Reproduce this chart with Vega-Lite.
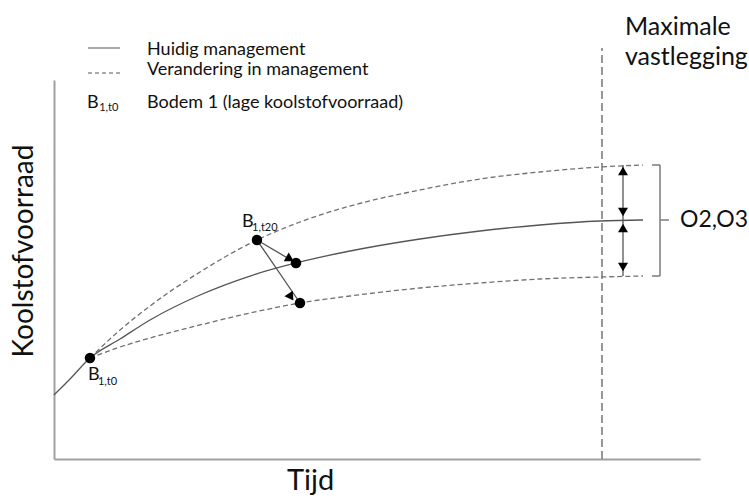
{
  "$schema": "https://vega.github.io/schema/vega-lite/v6.json",
  "width": 646,
  "height": 379,
  "autosize": {"type": "none"},
  "padding": {"left": 54, "top": 80, "right": 49, "bottom": 39},
  "background": "white",
  "config": {"view": {"stroke": null}, "font": "Lato"},
  "datasets": {
    "huidig": [
      {"t": 0, "c": 16.89}, {"t": 2.48, "c": 21.11}, {"t": 5.57, "c": 26.65}, {"t": 10.22, "c": 31.66},
      {"t": 14.86, "c": 36.68}, {"t": 22.6, "c": 43.27}, {"t": 30.34, "c": 48.28}, {"t": 37.46, "c": 51.72},
      {"t": 45.82, "c": 54.88}, {"t": 56.66, "c": 58.05}, {"t": 65.94, "c": 60.16}, {"t": 75.23, "c": 61.74},
      {"t": 84.52, "c": 62.8}, {"t": 91.18, "c": 63.06}
    ],
    "verandering": [
      {"reeks": "hoog", "t": 5.57, "c": 26.65}, {"reeks": "hoog", "t": 10.22, "c": 34.04}, {"reeks": "hoog", "t": 14.86, "c": 40.37},
      {"reeks": "hoog", "t": 22.6, "c": 49.34}, {"reeks": "hoog", "t": 31.42, "c": 57.78}, {"reeks": "hoog", "t": 38.08, "c": 62.53},
      {"reeks": "hoog", "t": 45.82, "c": 66.75}, {"reeks": "hoog", "t": 56.66, "c": 70.98}, {"reeks": "hoog", "t": 65.94, "c": 73.88},
      {"reeks": "hoog", "t": 75.23, "c": 75.73}, {"reeks": "hoog", "t": 84.52, "c": 77.04}, {"reeks": "hoog", "t": 91.18, "c": 77.57},
      {"reeks": "laag", "t": 5.57, "c": 26.65}, {"reeks": "laag", "t": 10.22, "c": 29.55}, {"reeks": "laag", "t": 14.86, "c": 31.93},
      {"reeks": "laag", "t": 22.6, "c": 35.36}, {"reeks": "laag", "t": 30.34, "c": 38.52}, {"reeks": "laag", "t": 38.08, "c": 41.16},
      {"reeks": "laag", "t": 45.82, "c": 43.01}, {"reeks": "laag", "t": 56.66, "c": 45.12}, {"reeks": "laag", "t": 65.94, "c": 46.44},
      {"reeks": "laag", "t": 75.23, "c": 47.49}, {"reeks": "laag", "t": 84.52, "c": 48.02}, {"reeks": "laag", "t": 91.18, "c": 48.28}
    ],
    "maxlijn": [{"t": 84.83, "c": 0, "c2": 108.44}],
    "pijlen": [
      {"t": 31.42, "c": 57.78, "t2": 37.46, "c2": 51.72},
      {"t": 31.42, "c": 57.78, "t2": 38.08, "c2": 41.16}
    ],
    "pijlkop1": [{"t": 36.53, "c": 52.77}],
    "pijlkop2": [{"t": 36.69, "c": 42.74}],
    "verschil": [{"t": 88.08, "c": 48.28, "t2": 88.08, "c2": 77.57}],
    "kop_op": [{"t": 88.08, "c": 75.99}, {"t": 88.08, "c": 60.95}],
    "kop_neer": [{"t": 88.08, "c": 65.17}, {"t": 88.08, "c": 50.66}],
    "accolade": [
      {"t": 93.81, "c": 48.28, "t2": 93.81, "c2": 77.57},
      {"t": 92.57, "c": 77.57, "t2": 93.81, "c2": 77.57},
      {"t": 92.57, "c": 48.28, "t2": 93.81, "c2": 48.28},
      {"t": 93.81, "c": 63.06, "t2": 95.2, "c2": 63.06}
    ],
    "punten": [
      {"punt": "B1,t0", "t": 5.57, "c": 26.65},
      {"punt": "B1,t20", "t": 31.42, "c": 57.78},
      {"punt": "huidig t20", "t": 37.46, "c": 51.72},
      {"punt": "laag t20", "t": 38.08, "c": 41.16}
    ],
    "legenda_vol": [{"t": 5.26, "c": 108.44, "t2": 10.22, "c2": 108.44}],
    "legenda_stip": [{"t": 5.26, "c": 101.85, "t2": 10.22, "c2": 101.85}],
    "legenda_tekst": [
      {"t": 14.4, "c": 106.6, "label": "Huidig management"},
      {"t": 14.4, "c": 101.32, "label": "Verandering in management"},
      {"t": 14.4, "c": 92.61, "label": "Bodem 1 (lage koolstofvoorraad)"}
    ],
    "b_groot": [
      {"t": 5.11, "c": 92.61, "label": "B"},
      {"t": 5.26, "c": 20.84, "label": "B"},
      {"t": 29.1, "c": 61.21, "label": "B"}
    ],
    "b_sub": [
      {"t": 7.0, "c": 91.82, "label": "1,t0"},
      {"t": 6.81, "c": 19.53, "label": "1,t0"},
      {"t": 30.65, "c": 60.16, "label": "1,t20"}
    ],
    "max_tekst": [
      {"t": 88.39, "c": 111.87, "label": "Maximale"},
      {"t": 88.39, "c": 103.96, "label": "vastlegging"}
    ],
    "o_tekst": [{"t": 96.9, "c": 63.06, "label": "O2,O3"}],
    "x_titel": [{"t": 36.07, "c": -8.3, "label": "Tijd"}],
    "y_titel": [{"t": -3.25, "c": 54.88, "label": "Koolstofvoorraad"}]
  },
  "encoding": {
    "x": {"field": "t", "type": "quantitative", "scale": {"domain": [0, 100], "nice": false, "zero": false},
      "axis": {"title": null, "labels": false, "ticks": false, "grid": false, "domainColor": "#a0a0a0", "domainWidth": 2}},
    "y": {"field": "c", "type": "quantitative", "scale": {"domain": [0, 100], "nice": false, "zero": false},
      "axis": {"title": null, "labels": false, "ticks": false, "grid": false, "domainColor": "#a0a0a0", "domainWidth": 2}}
  },
  "layer": [
    {"data": {"name": "maxlijn"}, "mark": {"type": "rule", "color": "#8c8c8c", "strokeWidth": 1.8, "strokeDash": [8, 4]},
      "encoding": {"y2": {"field": "c2"}}},
    {"data": {"name": "huidig"}, "mark": {"type": "line", "color": "#555555", "strokeWidth": 1.3, "interpolate": "monotone"},
      "encoding": {}},
    {"data": {"name": "verandering"}, "mark": {"type": "line", "color": "#707070", "strokeWidth": 1.3, "strokeDash": [5, 3], "interpolate": "monotone"},
      "encoding": {"detail": {"field": "reeks"}}},
    {"data": {"name": "pijlen"}, "mark": {"type": "rule", "color": "#555555", "strokeWidth": 1.3},
      "encoding": {"x2": {"field": "t2"}, "y2": {"field": "c2"}}},
    {"data": {"name": "pijlkop1"}, "mark": {"type": "point", "shape": "triangle-right", "angle": 30, "filled": true, "color": "black", "opacity": 1, "size": 100}},
    {"data": {"name": "pijlkop2"}, "mark": {"type": "point", "shape": "triangle-right", "angle": 56, "filled": true, "color": "black", "opacity": 1, "size": 100}},
    {"data": {"name": "verschil"}, "mark": {"type": "rule", "color": "#555555", "strokeWidth": 1.3},
      "encoding": {"x2": {"field": "t2"}, "y2": {"field": "c2"}}},
    {"data": {"name": "kop_op"}, "mark": {"type": "point", "shape": "triangle-up", "filled": true, "color": "black", "opacity": 1, "size": 100}},
    {"data": {"name": "kop_neer"}, "mark": {"type": "point", "shape": "triangle-down", "filled": true, "color": "black", "opacity": 1, "size": 100}},
    {"data": {"name": "accolade"}, "mark": {"type": "rule", "color": "#7a7a7a", "strokeWidth": 1.5},
      "encoding": {"x2": {"field": "t2"}, "y2": {"field": "c2"}}},
    {"data": {"name": "punten"}, "mark": {"type": "point", "shape": "circle", "filled": true, "color": "black", "opacity": 1, "size": 110}},
    {"data": {"name": "legenda_vol"}, "mark": {"type": "rule", "color": "#555555", "strokeWidth": 1.2},
      "encoding": {"x2": {"field": "t2"}, "y2": {"field": "c2"}}},
    {"data": {"name": "legenda_stip"}, "mark": {"type": "rule", "color": "#555555", "strokeWidth": 1.2, "strokeDash": [4, 3]},
      "encoding": {"x2": {"field": "t2"}, "y2": {"field": "c2"}}},
    {"data": {"name": "legenda_tekst"}, "mark": {"type": "text", "align": "left", "baseline": "alphabetic", "fontSize": 18, "color": "#111111"},
      "encoding": {"text": {"field": "label"}}},
    {"data": {"name": "b_groot"}, "mark": {"type": "text", "align": "left", "baseline": "alphabetic", "fontSize": 18, "color": "#111111"},
      "encoding": {"text": {"field": "label"}}},
    {"data": {"name": "b_sub"}, "mark": {"type": "text", "align": "left", "baseline": "alphabetic", "fontSize": 11, "color": "#111111"},
      "encoding": {"text": {"field": "label"}}},
    {"data": {"name": "max_tekst"}, "mark": {"type": "text", "align": "left", "baseline": "alphabetic", "fontSize": 25, "color": "#111111"},
      "encoding": {"text": {"field": "label"}}},
    {"data": {"name": "o_tekst"}, "mark": {"type": "text", "align": "left", "baseline": "middle", "fontSize": 23, "color": "#111111"},
      "encoding": {"text": {"field": "label"}}},
    {"data": {"name": "x_titel"}, "mark": {"type": "text", "align": "left", "baseline": "alphabetic", "fontSize": 29, "color": "#111111"},
      "encoding": {"text": {"field": "label"}}},
    {"data": {"name": "y_titel"}, "mark": {"type": "text", "align": "center", "baseline": "alphabetic", "angle": 270, "fontSize": 28, "color": "#111111"},
      "encoding": {"text": {"field": "label"}}}
  ]
}
